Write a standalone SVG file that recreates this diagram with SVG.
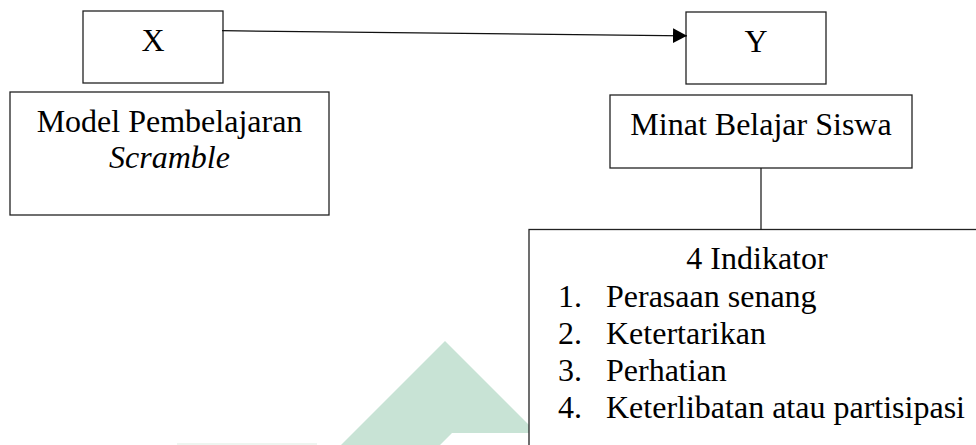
<svg xmlns="http://www.w3.org/2000/svg" width="976" height="445" viewBox="0 0 976 445">
<style>
.box{fill:#fff;stroke:#222;stroke-width:1.3}
.t{font-size:32px;fill:#000}
.c{text-anchor:middle}
.conn{stroke:#111;stroke-width:1.2;fill:none}
</style>
<defs>
<marker id="ah" markerUnits="userSpaceOnUse" markerWidth="15" markerHeight="16" refX="14" refY="7.5" orient="auto">
<path d="M0,0 L14,7.5 L0,15 z" fill="#000"/>
</marker>
</defs>
<rect width="976" height="445" fill="#fff"/>
<g id="watermark">
<polygon points="341,445 445,341 537,433 452,433 440,445" fill="#c8e3d5"/>
<rect x="177" y="443" width="140" height="2" fill="#eef5f0"/>
</g>
<g font-family="Liberation Serif, DejaVu Serif, serif">
<g id="node-x">
<rect class="box" x="83" y="11" width="140" height="72"/>
<text class="t c" x="153" y="51">X</text>
</g>
<g id="node-y">
<rect class="box" x="686" y="12" width="140" height="72"/>
<text class="t c" x="756" y="52">Y</text>
</g>
<g id="node-model">
<rect class="box" x="10" y="92" width="319" height="123"/>
<text class="t c" x="169.5" y="132">Model Pembelajaran</text>
<text class="t c" x="169.5" y="168" font-style="italic">Scramble</text>
</g>
<g id="node-minat">
<rect class="box" x="610" y="95" width="302" height="73"/>
<text class="t c" x="761" y="135">Minat Belajar Siswa</text>
</g>
<g id="node-indikator">
<rect class="box" x="529" y="229.5" width="470" height="240"/>
<text class="t c" x="757" y="269">4 Indikator</text>
<text class="t" x="558" y="307">1.</text>
<text class="t" x="606" y="307">Perasaan senang</text>
<text class="t" x="558" y="344">2.</text>
<text class="t" x="606" y="344">Ketertarikan</text>
<text class="t" x="558" y="381">3.</text>
<text class="t" x="606" y="381">Perhatian</text>
<text class="t" x="558" y="418">4.</text>
<text class="t" x="606" y="418">Keterlibatan atau partisipasi</text>
</g>
</g>
<g id="connectors">
<line class="conn" x1="222" y1="30.7" x2="687" y2="35.8" marker-end="url(#ah)"/>
<line class="conn" x1="761" y1="168" x2="761" y2="229.5"/>
</g>
</svg>
